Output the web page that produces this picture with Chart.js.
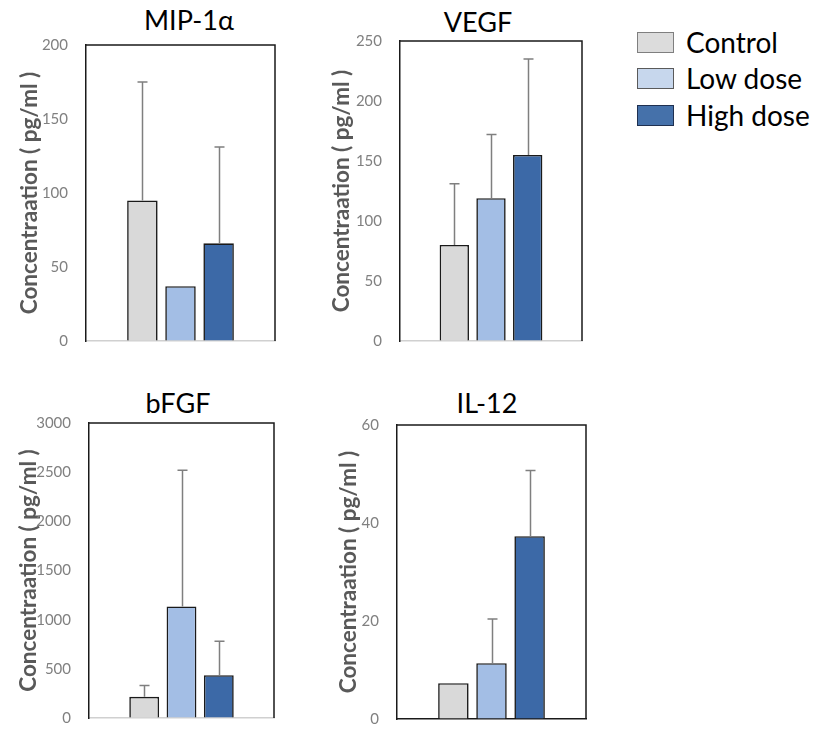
<!DOCTYPE html>
<html><head><meta charset="utf-8">
<script src="https://cdn.jsdelivr.net/npm/chart.js@4.4.1/dist/chart.umd.min.js"></script>
<style>
body{margin:0;background:#fff;width:818px;height:730px;position:relative;overflow:hidden;font-family:Lato,sans-serif;}
.wrap{position:absolute;}
.ttl{position:absolute;font-family:Lato,sans-serif;font-size:27px;line-height:27px;color:#000;transform:translateX(-50%);white-space:nowrap;}
.leg{position:absolute;left:637px;height:28px;display:flex;align-items:center;}
.leg .sw{width:35px;height:19px;border:1.5px solid #7f7f7f;margin-right:12px;}
.leg span{font-family:Lato,sans-serif;font-size:28px;line-height:28px;color:#000;}
</style></head>
<body>
<div class="ttl" style="left:189px;top:6px">MIP-1α</div>
<div class="ttl" style="left:478px;top:8px">VEGF</div>
<div class="ttl" style="left:178px;top:389px">bFGF</div>
<div class="ttl" style="left:487px;top:389px">IL-12</div>

<div class="leg" style="top:28px"><div class="sw" style="background:#dcdcdc;border-color:#7f7f7f"></div><span>Control</span></div>
<div class="leg" style="top:64px"><div class="sw" style="background:#c7d7ed;border-color:#5a5a5a"></div><span>Low dose</span></div>
<div class="leg" style="top:101px"><div class="sw" style="background:#4571aa;border-color:#1f3050"></div><span>High dose</span></div>

<div class="wrap" id="w1"><canvas id="c1"></canvas></div>
<div class="wrap" id="w2"><canvas id="c2"></canvas></div>
<div class="wrap" id="w3"><canvas id="c3"></canvas></div>
<div class="wrap" id="w4"><canvas id="c4"></canvas></div>

<script>
// ---- data ----
const groups = ['Control', 'Low dose', 'High dose'];
const panelNames = ['MIP-1α', 'VEGF', 'bFGF', 'IL-12'];
const mipMean = [95, 37, 66];
const mipSD = [80, 0, 65];
const vegfMean = [80, 119, 155];
const vegfSD = [51, 53, 80];
const bfgfMean = [215, 1135, 435];
const bfgfSD = [115, 1385, 345];
const il12Mean = [7.3, 11.4, 37.3];
const il12SD = [0, 9, 13.4];
const yMaxes = [200, 250, 3000, 60];
const yStepSizes = [50, 50, 500, 20];
const yTitle = 'Concentraation ( pg/ml )';

// ---- styles ----
const fills = ['#d9d9d9', '#a3bee5', '#3c69a7'];
const barBorder = '#1a1a1a';

// layout per panel: canvas left, chart area l/r/t/b (page coords), y-title padding, x-border colour
const layouts = [
  {cl: 0,   l: 86,  r: 275, t: 45,  b: 341, tp: 16, xb: '#d0d0d0'},
  {cl: 310, l: 400, r: 582, t: 41,  b: 341, tp: 18, xb: '#d0d0d0'},
  {cl: 0,   l: 89,  r: 274, t: 423, b: 718, tp: 15, xb: '#d0d0d0'},
  {cl: 310, l: 397, r: 586, t: 425, b: 719, tp: 25, xb: '#1a1a1a'}
];
const means = [mipMean, vegfMean, bfgfMean, il12Mean];
const sds = [mipSD, vegfSD, bfgfSD, il12SD];

const errPlugin = {
  id: 'errbars',
  afterDatasetsDraw(chart) {
    const ctx = chart.ctx;
    const ys = chart.scales.y;
    ctx.save();
    ctx.strokeStyle = '#7f7f7f';
    ctx.lineWidth = 1.5;
    chart.data.datasets.forEach((ds, i) => {
      const meta = chart.getDatasetMeta(i);
      meta.data.forEach((bar, j) => {
        const sd = ds.sd[j];
        if (!sd) return;
        const yTop = ys.getPixelForValue(ds.data[j] + sd);
        const x = Math.round(bar.x) + 0.5;
        ctx.beginPath();
        ctx.moveTo(x, bar.y);
        ctx.lineTo(x, yTop);
        ctx.moveTo(x - 5, yTop);
        ctx.lineTo(x + 5, yTop);
        ctx.stroke();
      });
    });
    ctx.restore();
  }
};
const framePlugin = {
  id: 'frame',
  afterDraw(chart) {
    const a = chart.chartArea;
    const ctx = chart.ctx;
    ctx.save();
    ctx.strokeStyle = '#1a1a1a';
    ctx.lineWidth = 1.5;
    ctx.beginPath();
    ctx.moveTo(a.left, a.top);
    ctx.lineTo(a.right, a.top);
    ctx.lineTo(a.right, a.bottom);
    ctx.stroke();
    ctx.restore();
  }
};

layouts.forEach((L, k) => {
  const padTop = 20, padBottom = 20;
  const w = L.r - L.cl + 10;
  const h = L.b - L.t + padTop + padBottom;
  const wrap = document.getElementById('w' + (k + 1));
  wrap.style.left = L.cl + 'px';
  wrap.style.top = (L.t - padTop) + 'px';
  wrap.style.width = w + 'px';
  wrap.style.height = h + 'px';
  const yWidth = L.l - L.cl;
  new Chart(document.getElementById('c' + (k + 1)), {
    type: 'bar',
    data: {
      labels: [panelNames[k]],
      datasets: groups.map((g, i) => ({
        label: g,
        data: [means[k][i]],
        sd: [sds[k][i]],
        backgroundColor: fills[i],
        borderColor: barBorder,
        borderWidth: 1.6,
        categoryPercentage: 0.605,
        barPercentage: 0.8
      }))
    },
    options: {
      responsive: true,
      maintainAspectRatio: false,
      animation: false,
      layout: {padding: {top: padTop, bottom: padBottom, left: 0, right: 10}},
      plugins: {legend: {display: false}, title: {display: false}, tooltip: {enabled: false}},
      scales: {
        x: {
          grid: {display: false, drawTicks: false},
          ticks: {display: false},
          border: {display: true, color: L.xb, width: 1.5}
        },
        y: {
          min: 0, max: yMaxes[k],
          afterFit(s) { s.width = yWidth; },
          grid: {display: true, drawOnChartArea: false, drawTicks: true, tickLength: 18,
                 color: 'rgba(0,0,0,0)'},
          border: {display: true, color: '#1a1a1a', width: 1.5},
          ticks: {stepSize: yStepSizes[k], padding: 0, color: '#808080',
                  font: {family: 'Lato', size: 15},
                  callback: (v) => String(v)},
          title: {display: true, text: yTitle, color: '#595959',
                  font: {family: 'Lato', size: 22.5, weight: 'bold'},
                  padding: {top: L.tp, bottom: 0}}
        }
      }
    },
    plugins: [errPlugin, framePlugin]
  });
});
</script>
</body></html>
